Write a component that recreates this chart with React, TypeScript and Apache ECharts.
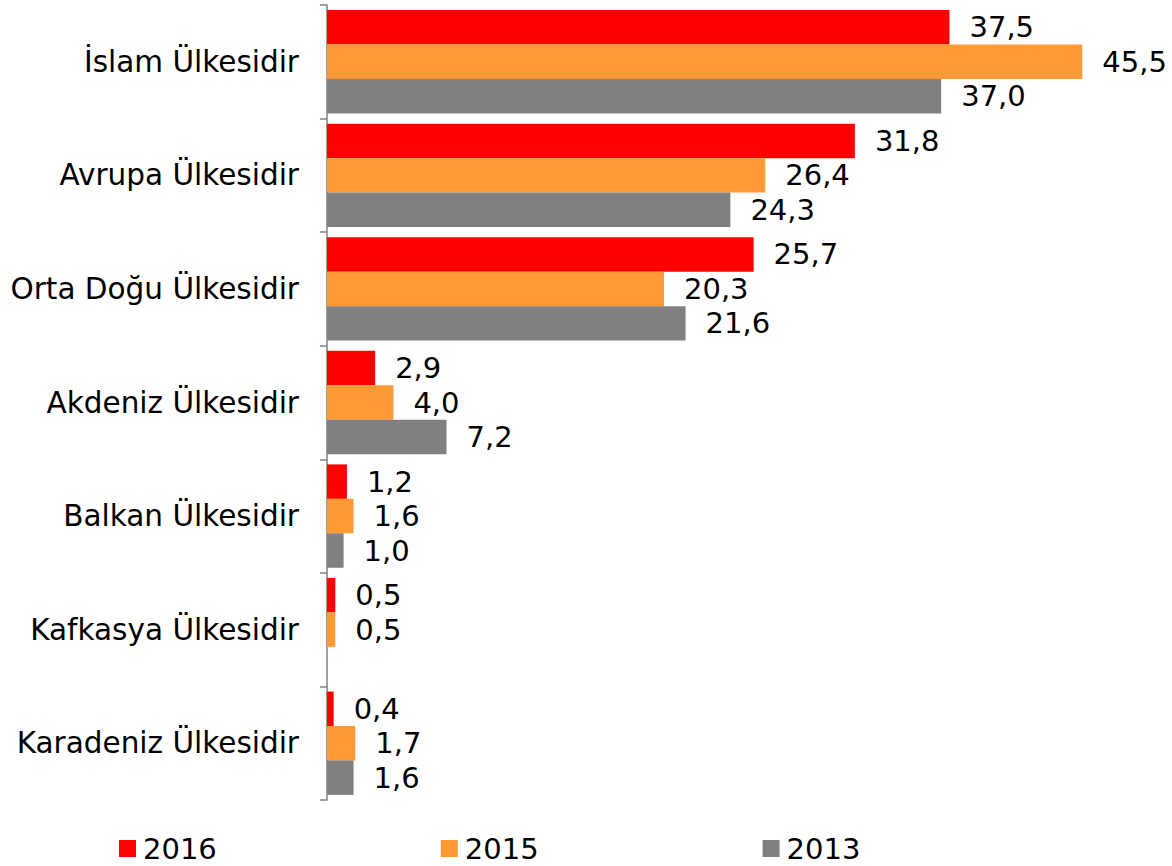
import React, { useEffect, useRef } from "react";
import * as echarts from "echarts";

const categories = [
  "İslam Ülkesidir",
  "Avrupa Ülkesidir",
  "Orta Doğu Ülkesidir",
  "Akdeniz Ülkesidir",
  "Balkan Ülkesidir",
  "Kafkasya Ülkesidir",
  "Karadeniz Ülkesidir",
];
const values2016 = [37.5, 31.8, 25.7, 2.9, 1.2, 0.5, 0.4];
const values2015 = [45.5, 26.4, 20.3, 4.0, 1.6, 0.5, 1.7];
const values2013: (number | null)[] = [37.0, 24.3, 21.6, 7.2, 1.0, null, 1.6];
const seriesNames = ["2016", "2015", "2013"];
const colors = ["#FF0000", "#FF9933", "#808080"];

const FONT = "DejaVu Sans, Verdana, sans-serif";

export default function App() {
  const ref = useRef<HTMLDivElement>(null);
  useEffect(() => {
    if (!ref.current) return;
    const chart = echarts.init(ref.current, null, { renderer: "svg" });
    const data = [values2016, values2015, values2013];
    chart.setOption({
      animation: false,
      grid: { left: 327, right: 15, top: 5, bottom: 66, containLabel: false },
      legend: {
        data: seriesNames,
        left: 119,
        top: 834,
        padding: 0,
        icon: "rect",
        itemWidth: 17,
        itemHeight: 17,
        itemGap: 224,
        textStyle: { fontFamily: FONT, fontSize: 29, color: "#000", padding: [0, 0, 0, 2] },
      },
      xAxis: {
        type: "value",
        min: 0,
        max: 50,
        show: false,
        splitLine: { show: false },
      },
      yAxis: {
        type: "category",
        data: categories,
        inverse: true,
        axisLine: { show: true, lineStyle: { color: "#808080", width: 1.5 } },
        axisTick: { show: true, length: 7, lineStyle: { color: "#808080", width: 1.5 } },
        axisLabel: { fontFamily: FONT, fontSize: 29.5, color: "#000", margin: 28 },
      },
      series: seriesNames.map((name, i) => ({
        name,
        type: "bar",
        data: data[i],
        barGap: "0%",
        barCategoryGap: "9%",
        itemStyle: { color: colors[i] },
        label: {
          show: true,
          position: "right",
          distance: 20,
          fontFamily: FONT,
          fontSize: 29,
          color: "#000",
          formatter: (p: any) => (p.value == null ? "" : Number(p.value).toFixed(1).replace(".", ",")),
        },
      })),
    });
    return () => chart.dispose();
  }, []);
  return <div ref={ref} style={{ width: 1172, height: 866, position: "absolute", left: 0, top: 0 }} />;
}
